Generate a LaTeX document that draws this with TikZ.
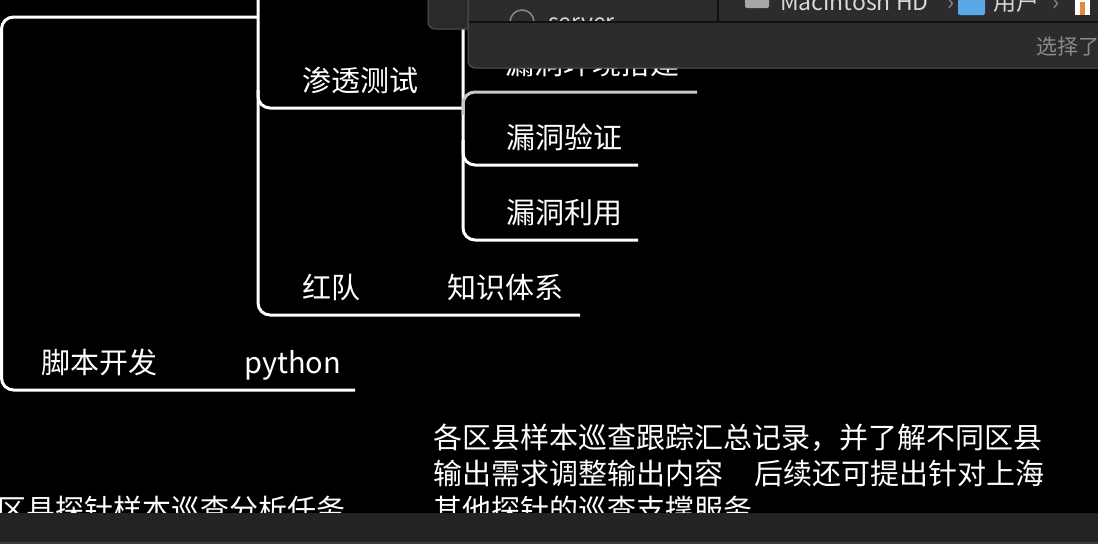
\documentclass[tikz,border=0pt]{standalone}
\usepackage{fontspec}
\setmainfont{Noto Sans CJK SC}
\definecolor{winbg}{HTML}{2C2C2E}
\definecolor{winbgback}{HTML}{2A2A2C}
\definecolor{winborder}{HTML}{555557}
\definecolor{windiv}{HTML}{111111}
\definecolor{wintext}{HTML}{D8D8D8}
\definecolor{wingray}{HTML}{8A8A8C}
\definecolor{barbg}{HTML}{232325}
\definecolor{barstrip}{HTML}{3B3B3D}
\definecolor{linegray}{HTML}{C8C8C8}
\definecolor{foldblue}{HTML}{5AA9E6}
\definecolor{iconorange}{HTML}{E08A3C}
\begin{document}
\begin{tikzpicture}[x=1pt,y=-1pt,
  br/.style={draw=white,line width=3pt,rounded corners=12pt},
  lbl/.style={anchor=base west,inner sep=0pt,text=white,font=\fontsize{29}{29}\selectfont},
  wtxt/.style={anchor=base west,inner sep=0pt,text=wintext,font=\fontsize{23}{23}\selectfont}]
\useasboundingbox (0,0) rectangle (1098,544);
\clip (0,0) rectangle (1098,544);
\fill[black] (0,0) rectangle (1098,544);

% ---------- mind map labels ----------
\node[lbl] (hidden) at (505,74) {漏洞环境搭建};
\node[lbl] (sttest) at (302,91) {渗透测试};
\node[lbl] (ldyz) at (506,148) {漏洞验证};
\node[lbl] (ldly) at (506,223) {漏洞利用};
\node[lbl] (hd) at (302,298) {红队};
\node[lbl] (zstx) at (447,298) {知识体系};
\node[lbl] (jbkf) at (41,373) {脚本开发};
\node[lbl] (py) at (244,373) {python};

% ---------- branch coordinates ----------
\coordinate (topEnd) at (258,17);
\coordinate (leftTop) at (1.5,17);
\coordinate (leftBot) at (1.5,390);
\coordinate (jbEnd) at (355,390);
\coordinate (vA) at (258,-10);
\coordinate (vAbot) at (258,315);
\coordinate (hdEnd) at (580,315);
\coordinate (stUp) at (258,90);
\coordinate (stCorner) at (258,108);
\coordinate (stEnd) at (462,108);
\coordinate (vB) at (463,25);
\coordinate (vBbot) at (463,240);
\coordinate (lyEnd) at (638,240);
\coordinate (yzUp) at (463,140);
\coordinate (yzCorner) at (463,165);
\coordinate (yzEnd) at (638,165);
\coordinate (hjDown) at (463,115);
\coordinate (hjCorner) at (463,92);
\coordinate (hjEnd) at (697,92);

\draw[br] (topEnd) -- (leftTop) -- (leftBot) -- (jbEnd);
\draw[br] (vA) -- (vAbot) -- (hdEnd);
\draw[br] (stUp) -- (stCorner) -- (stEnd);
\draw[br] (vB) -- (vBbot) -- (lyEnd);
\draw[br] (yzUp) -- (yzCorner) -- (yzEnd);
\draw[br,draw=linegray] (hjDown) -- (hjCorner) -- (hjEnd);

% ---------- paragraph text ----------
\node[lbl] (p1) at (433,448) {各区县样本巡查跟踪汇总记录，并了解不同区县};
\node[lbl] (p2) at (433,484) {输出需求调整输出内容\hspace{31pt}后续还可提出针对上海};
\node[lbl] (p3) at (433,520) {其他探针的巡查支撑服务};
\node[lbl] (p0) at (-3,520) {区县探针样本巡查分析任务};

% ---------- window overlay ----------
\draw[fill=winbgback,draw=winborder,line width=1pt,rounded corners=7pt] (428,-20) rectangle (500,29);
\draw[fill=winbg,draw=winborder,line width=1pt,rounded corners=7pt] (468,-20) rectangle (1130,68);
\begin{scope}
  \clip (469,-5) rectangle (717,21.5);
  \draw[wingray,line width=1.5pt] (522,22) circle (12);
  \node[wtxt] (server) at (548,30) {server};
\end{scope}
\draw[windiv,line width=1.5pt] (469,22) -- (1098,22);
\draw[windiv,line width=1.5pt] (718,-5) -- (718,22);
\begin{scope}
  \clip (719,-5) rectangle (1098,21);
  \fill[gray!70,rounded corners=2pt] (745,-8) rectangle (769,8);
  \node[wtxt] (mac) at (780,10) {Macintosh HD};
  \node[wtxt,text=wingray] (sep1) at (947,10) {›};
  \fill[foldblue,rounded corners=2pt] (958,-8) rectangle (985,15);
  \node[wtxt] (users) at (993,10) {用户};
  \node[wtxt,text=wingray] (sep2) at (1052,10) {›};
  \fill[white] (1075,-8) rectangle (1090,15);
  \fill[iconorange] (1080,2) rectangle (1085,15);
\end{scope}
\node[anchor=base west,inner sep=0pt,text=wingray,font=\fontsize{21}{21}\selectfont] (sel) at (1036,54) {选择了};

% ---------- bottom bar ----------
\fill[barbg] (0,512.5) rectangle (1098,544);
\fill[barstrip] (0,541.5) rectangle (1098,544);
\end{tikzpicture}
\end{document}
